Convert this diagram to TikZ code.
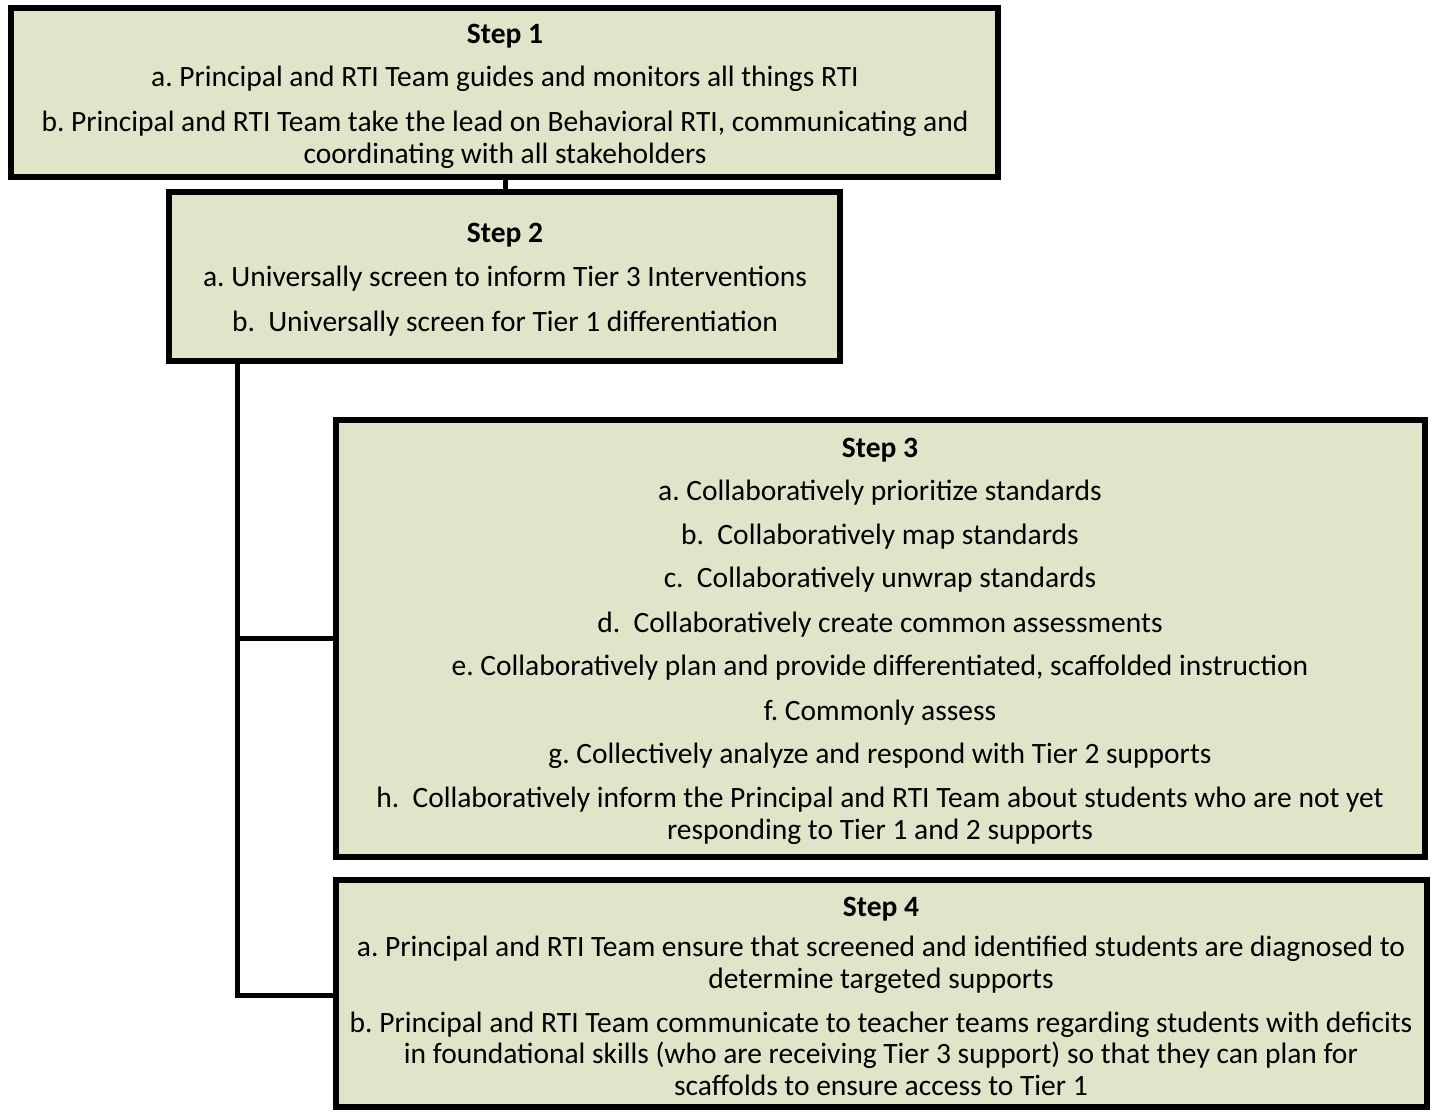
\documentclass[tikz,border=0pt]{standalone}
\usepackage{fontspec}
\setmainfont{Carlito}
\usetikzlibrary{shadows}
\definecolor{boxfill}{HTML}{DEE5C9}
\begin{document}
\frenchspacing
\begin{tikzpicture}[x=1pt,y=-1pt,
  stepbox/.style={draw=black,line width=6pt,fill=boxfill,
    drop shadow={shadow xshift=3pt,shadow yshift=-3pt,opacity=0.35,fill=black!60}},
  conn/.style={draw=black,line width=5pt},
  txt/.style={anchor=base,align=center,inner sep=0pt,
    font=\fontsize{29.5pt}{31.5pt}\selectfont},
  ttl/.style={txt,font=\fontsize{29.5pt}{31.5pt}\selectfont\bfseries}]
\useasboundingbox (0,0) rectangle (1434,1112);
% boxes
\path[stepbox] (11,8) rectangle (998,177);
\coordinate (b1s) at (505,177);
\path[stepbox] (169,192) rectangle (840,361);
\coordinate (b2n) at (505,192);
\coordinate (b2s) at (237,361);
% connectors
\coordinate (j3) at (237,638);
\coordinate (j4) at (237,995);
\coordinate (b3w) at (336,638);
\coordinate (b4w) at (336,995);
\draw[conn] (b1s) -- (b2n);
\draw[conn,line cap=rect] (b2s) -- (j4) -- (b4w);
\draw[conn] (j3) -- (b3w);
\path[stepbox] (336,420) rectangle (1425,857);
\path[stepbox] (336,880) rectangle (1427,1107);
% Step 1
\node[ttl] (s1t) at (505,43) {Step 1};
\node[txt] (s1a) at (505,86) {a. Principal and RTI Team guides and monitors all things RTI};
\node[txt] (s1b) at (505,163) {b. Principal and RTI Team take the lead on Behavioral RTI, communicating and\\coordinating with all stakeholders};
% Step 2
\node[ttl] (s2t) at (505,242) {Step 2};
\node[txt] (s2a) at (505,286) {a. Universally screen to inform Tier 3 Interventions};
\node[txt] (s2b) at (505,331) {b.\ \ Universally screen for Tier 1 differentiation};
% Step 3
\node[ttl] (s3t) at (880,457) {Step 3};
\node[txt] (s3a) at (880,500) {a. Collaboratively prioritize standards};
\node[txt] (s3b) at (880,544) {b.\ \ Collaboratively map standards};
\node[txt] (s3c) at (880,587) {c.\ \ Collaboratively unwrap standards};
\node[txt] (s3d) at (880,632) {d.\ \ Collaboratively create common assessments};
\node[txt] (s3e) at (880,675) {e. Collaboratively plan and provide differentiated, scaffolded instruction};
\node[txt] (s3f) at (880,720) {f. Commonly assess};
\node[txt] (s3g) at (880,763) {g. Collectively analyze and respond with Tier 2 supports};
\node[txt] (s3h) at (880,839) {h.\ \ Collaboratively inform the Principal and RTI Team about students who are not yet\\responding to Tier 1 and 2 supports};
% Step 4
\node[ttl] (s4t) at (881,916) {Step 4};
\node[txt] (s4a) at (881,988) {a. Principal and RTI Team ensure that screened and identified students are diagnosed to\\determine targeted supports};
\node[txt] (s4b) at (881,1095) {b. Principal and RTI Team communicate to teacher teams regarding students with deficits\\in foundational skills (who are receiving Tier 3 support) so that they can plan for\\scaffolds to ensure access to Tier 1};
\end{tikzpicture}
\end{document}
